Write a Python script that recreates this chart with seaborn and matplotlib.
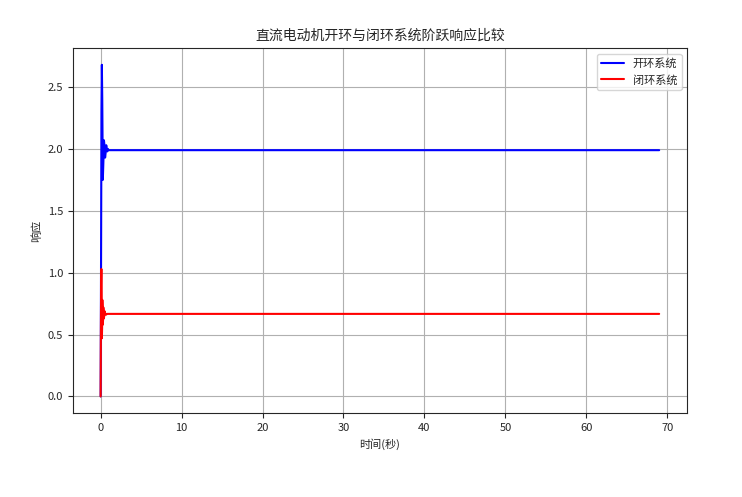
import matplotlib
matplotlib.use("Agg")
import matplotlib.pyplot as plt
import seaborn as sns
import pandas as pd

# Open-loop step response
t_open = [0.0, 0.05, 0.10, 0.15, 0.20, 0.27, 0.34, 0.41, 0.48, 0.55, 0.62, 0.69, 0.76, 0.83, 0.90, 1.0, 1.2, 2.0, 5.0, 20.0, 40.0, 60.0, 69.0]
y_open = [0.0, 1.10, 2.30, 2.68, 2.40, 1.75, 1.90, 2.07, 2.02, 1.93, 1.97, 2.03, 2.00, 1.98, 2.00, 1.99, 1.99, 1.99, 1.99, 1.99, 1.99, 1.99, 1.99]

# Closed-loop step response
t_closed = [0.0, 0.03, 0.06, 0.09, 0.12, 0.15, 0.18, 0.21, 0.24, 0.27, 0.30, 0.33, 0.36, 0.40, 0.44, 0.48, 0.55, 0.65, 0.8, 1.5, 5.0, 20.0, 40.0, 60.0, 69.0]
y_closed = [0.0, 0.50, 0.90, 1.03, 0.80, 0.47, 0.55, 0.78, 0.72, 0.58, 0.62, 0.72, 0.70, 0.63, 0.65, 0.69, 0.675, 0.66, 0.667, 0.667, 0.667, 0.667, 0.667, 0.667, 0.667]

labels = ["开环系统", "闭环系统"]
colors = ["blue", "red"]

sns.set_style("ticks")
plt.rcParams['font.family'] = ['Noto Sans CJK SC', 'DejaVu Sans']
plt.rcParams['axes.unicode_minus'] = False

df = pd.concat([
    pd.DataFrame({"t": t_open, "y": y_open, "系统": labels[0]}),
    pd.DataFrame({"t": t_closed, "y": y_closed, "系统": labels[1]}),
])

fig, ax = plt.subplots(figsize=(7.42, 4.97), dpi=100)
fig.subplots_adjust(left=0.098, right=0.926, top=0.903, bottom=0.169)
sns.lineplot(data=df, x="t", y="y", hue="系统", palette=colors, ax=ax,
             linewidth=1.5, sort=False, estimator=None)
ax.set_title("直流电动机开环与闭环系统阶跃响应比较", fontsize=10)
ax.set_xlabel("时间(秒)", fontsize=8)
ax.set_ylabel("响应", fontsize=8)
ax.tick_params(labelsize=8)
ax.grid(True, color="#b0b0b0", linewidth=0.8)
ax.legend(title=None, fontsize=8, loc="upper right")
fig.savefig("out.png", dpi=100)
